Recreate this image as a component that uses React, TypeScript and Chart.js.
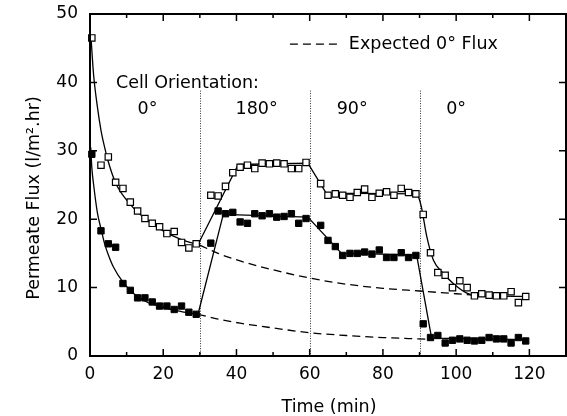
import React, { useEffect, useRef } from "react";
import { Chart, registerables } from "chart.js";

Chart.register(...registerables);

// Sampling times (min) shared by both measured series
const sampleTimes = [
  0.5, 3, 5, 7, 9, 11, 13, 15, 17, 19, 21, 23, 25, 27, 29,
  33, 35, 37, 39, 41, 43, 45, 47, 49, 51, 53, 55, 57, 59,
  63, 65, 67, 69, 71, 73, 75, 77, 79, 81, 83, 85, 87, 89,
  91, 93, 95, 97, 99, 101, 103, 105, 107, 109, 111, 113, 115, 117, 119,
];

// Open squares (upper run)
const fluxOpen = [
  46.5, 27.9, 29.1, 25.4, 24.5, 22.5, 21.2, 20.1, 19.4, 18.9, 17.9, 18.2, 16.6, 15.8, 16.4,
  23.5, 23.4, 24.8, 26.8, 27.6, 27.9, 27.4, 28.2, 28.1, 28.2, 28.1, 27.4, 27.4, 28.3,
  25.2, 23.5, 23.7, 23.5, 23.2, 23.9, 24.4, 23.2, 23.8, 24.0, 23.5, 24.5, 23.9, 23.7,
  20.7, 15.1, 12.2, 11.8, 10.0, 11.0, 10.0, 8.8, 9.1, 8.9, 8.8, 8.8, 9.4, 7.8, 8.7,
];

// Filled squares (lower run)
const fluxFilled = [
  29.5, 18.3, 16.4, 15.9, 10.6, 9.6, 8.5, 8.5, 7.9, 7.3, 7.3, 6.8, 7.3, 6.4, 6.1,
  16.5, 21.2, 20.8, 21.0, 19.6, 19.4, 20.8, 20.5, 20.8, 20.3, 20.4, 20.8, 19.4, 20.1,
  19.1, 16.9, 16.0, 14.7, 15.0, 15.0, 15.2, 14.9, 15.5, 14.4, 14.4, 15.1, 14.4, 14.7,
  4.7, 2.7, 3.0, 1.9, 2.3, 2.5, 2.3, 2.2, 2.3, 2.7, 2.5, 2.5, 1.9, 2.7, 2.2,
];

// Fitted curves, open run
const openDecayT = [0.3, 1, 2, 3, 4, 5, 7, 10, 15, 20, 25, 30];
const openDecayV = [46.3, 41, 36.5, 33, 30.5, 28.4, 25.3, 22.8, 20.1, 18.3, 17.0, 16.2];
const openStepT = [29.5, 40.5, 59.5, 64.5, 89.5];
const openStepV = [16.3, 28.0, 28.2, 23.8, 23.7];
const openRecoverT = [89.5, 90.5, 92, 93.8, 96.5, 99.2, 102.9, 105.6, 110, 119.8];
const openRecoverV = [23.7, 21.8, 17.4, 14.0, 12.1, 10.6, 9.2, 8.8, 8.75, 8.7];
const openExpectedT = [30, 35, 41, 50, 60, 70, 80, 90, 100, 105];
const openExpectedV = [16.2, 15.0, 13.9, 12.6, 11.4, 10.5, 9.9, 9.5, 9.1, 8.9];

// Fitted curves, filled run
const filledDecayT = [0.2, 0.5, 1, 2, 3, 4, 5, 6.4, 9, 12, 15.5, 20, 25, 29.5];
const filledDecayV = [30.5, 27.5, 25, 21, 18.6, 16.4, 14.8, 13.0, 10.8, 9.1, 7.9, 7.1, 6.5, 6.1];
const filledStepT = [29.5, 36.4, 59.5, 68.7, 89.2, 93.3, 119.5];
const filledStepV = [6.1, 20.7, 20.3, 15.0, 14.8, 2.6, 2.4];
const filledExpectedT = [29.5, 35, 41, 50, 60, 70, 80, 87, 92];
const filledExpectedV = [6.1, 5.4, 4.8, 4.1, 3.4, 3.0, 2.7, 2.55, 2.45];

// Orientation changes and labels
const switchTimes = [30, 60, 90];
const orientationLabels = ["0°", "180°", "90°", "0°"];
const orientationLabelTimes = [15.7, 45.5, 71.6, 100];

const xTickLabels = [0, 20, 40, 60, 80, 100, 120];
const yTickLabels = [0, 10, 20, 30, 40, 50];

const FONT = "'DejaVu Sans', sans-serif";

const pts = (t: number[], v: number[]) => t.map((x, i) => ({ x, y: v[i] }));

const framePlugin = {
  id: "frameAndNotes",
  beforeDatasetsDraw(chart: any) {
    const { ctx, chartArea, scales } = chart;
    const x = scales.x, y = scales.y;
    ctx.save();
    ctx.strokeStyle = "#333";
    ctx.lineWidth = 1;
    ctx.setLineDash([1, 1.5]);
    for (const t of switchTimes) {
      const px = Math.round(x.getPixelForValue(t)) + 0.5;
      ctx.beginPath();
      ctx.moveTo(px, y.getPixelForValue(38.8));
      ctx.lineTo(px, chartArea.bottom);
      ctx.stroke();
    }
    ctx.restore();
  },
  afterDraw(chart: any) {
    const { ctx, chartArea, scales } = chart;
    const x = scales.x, y = scales.y;
    const { left, right, top, bottom } = chartArea;
    ctx.save();
    ctx.strokeStyle = "#000";
    ctx.lineWidth = 2;
    ctx.setLineDash([]);
    ctx.strokeRect(left, top, right - left, bottom - top);

    // inward tick marks
    ctx.lineWidth = 1.5;
    ctx.beginPath();
    for (let t = 10; t < 130; t += 10) {
      const px = x.getPixelForValue(t);
      const len = t % 20 === 0 ? 7 : 4;
      ctx.moveTo(px, bottom);
      ctx.lineTo(px, bottom - len);
      ctx.moveTo(px, top);
      ctx.lineTo(px, top + len);
    }
    for (let v = 10; v < 50; v += 10) {
      const py = y.getPixelForValue(v);
      ctx.moveTo(left, py);
      ctx.lineTo(left + 7, py);
      ctx.moveTo(right, py);
      ctx.lineTo(right - 7, py);
    }
    ctx.stroke();

    // annotations
    ctx.fillStyle = "#000";
    ctx.font = `17.5px ${FONT}`;
    ctx.textBaseline = "middle";
    ctx.textAlign = "left";
    ctx.fillText("Cell Orientation:", x.getPixelForValue(7.1), y.getPixelForValue(39.9));
    ctx.textAlign = "center";
    orientationLabels.forEach((lab, i) => {
      ctx.fillText(lab, x.getPixelForValue(orientationLabelTimes[i]), y.getPixelForValue(36.0));
    });

    // legend
    const ly = y.getPixelForValue(45.6);
    ctx.lineWidth = 1.3;
    ctx.setLineDash([8, 5]);
    ctx.beginPath();
    ctx.moveTo(x.getPixelForValue(54.6), ly);
    ctx.lineTo(x.getPixelForValue(68.3), ly);
    ctx.stroke();
    ctx.setLineDash([]);
    ctx.textAlign = "left";
    ctx.fillText("Expected 0° Flux", x.getPixelForValue(70.7), ly);

    // axis titles
    ctx.font = `17.5px ${FONT}`;
    ctx.textAlign = "center";
    ctx.fillText("Time (min)", (left + right) / 2 + 1, bottom + 51);
    ctx.translate(34, 198);
    ctx.rotate(-Math.PI / 2);
    ctx.fillText("Permeate Flux (l/m\u00B2.hr)", 0, 0);
    ctx.restore();
  },
};

export default function App() {
  const canvasRef = useRef<HTMLCanvasElement | null>(null);

  useEffect(() => {
    const canvas = canvasRef.current;
    if (!canvas) return;
    const lineBase = { borderColor: "#000", borderWidth: 1.3, pointRadius: 0, fill: false, order: 1 };
    const chart = new Chart(canvas, {
      type: "scatter",
      data: {
        datasets: [
          {
            label: "open",
            data: pts(sampleTimes, fluxOpen),
            pointStyle: "rect",
            pointRadius: 4.5,
            pointBackgroundColor: "#fff",
            pointBorderColor: "#000",
            pointBorderWidth: 1.2,
            showLine: false,
            clip: false,
            order: 0,
          },
          {
            label: "filled",
            data: pts(sampleTimes, fluxFilled),
            pointStyle: "rect",
            pointRadius: 4.5,
            pointBackgroundColor: "#000",
            pointBorderColor: "#000",
            pointBorderWidth: 1,
            showLine: false,
            clip: false,
            order: 0,
          },
          { ...lineBase, type: "line", data: pts(openDecayT, openDecayV), cubicInterpolationMode: "monotone" },
          { ...lineBase, type: "line", data: pts(openStepT, openStepV), tension: 0 },
          { ...lineBase, type: "line", data: pts(openRecoverT, openRecoverV), cubicInterpolationMode: "monotone" },
          { ...lineBase, type: "line", data: pts(openExpectedT, openExpectedV), cubicInterpolationMode: "monotone", borderDash: [8, 5] },
          { ...lineBase, type: "line", data: pts(filledDecayT, filledDecayV), cubicInterpolationMode: "monotone" },
          { ...lineBase, type: "line", data: pts(filledStepT, filledStepV), tension: 0 },
          { ...lineBase, type: "line", data: pts(filledExpectedT, filledExpectedV), cubicInterpolationMode: "monotone", borderDash: [8, 5] },
        ] as any,
      },
      options: {
        responsive: false,
        animation: false,
        layout: { autoPadding: false, padding: { left: 0, top: 14, right: 1, bottom: 0 } },
        plugins: { legend: { display: false }, tooltip: { enabled: false } },
        scales: {
          x: {
            type: "linear",
            min: 0,
            max: 130,
            grid: { display: false, drawTicks: false },
            border: { display: false },
            afterFit: (s: any) => {
              s.height = 60;
              s.paddingLeft = 0;
              s.paddingRight = 0;
            },
            afterBuildTicks: (s: any) => { s.ticks = xTickLabels.map((value) => ({ value })); },
            ticks: { color: "#000", font: { family: FONT, size: 17 }, padding: 8, maxRotation: 0 },
          },
          y: {
            type: "linear",
            min: 0,
            max: 50,
            grid: { display: false, drawTicks: false },
            border: { display: false },
            afterFit: (s: any) => {
              s.width = 90;
              s.paddingTop = 0;
              s.paddingBottom = 0;
            },
            afterBuildTicks: (s: any) => { s.ticks = yTickLabels.map((value) => ({ value })); },
            ticks: { color: "#000", font: { family: FONT, size: 17 }, padding: 12 },
          },
        },
      },
      plugins: [framePlugin],
    });
    return () => chart.destroy();
  }, []);

  return (
    <div style={{ position: "fixed", left: 0, top: 0, width: 567, height: 416, background: "#fff" }}>
      <canvas ref={canvasRef} width={567} height={416} />
    </div>
  );
}
